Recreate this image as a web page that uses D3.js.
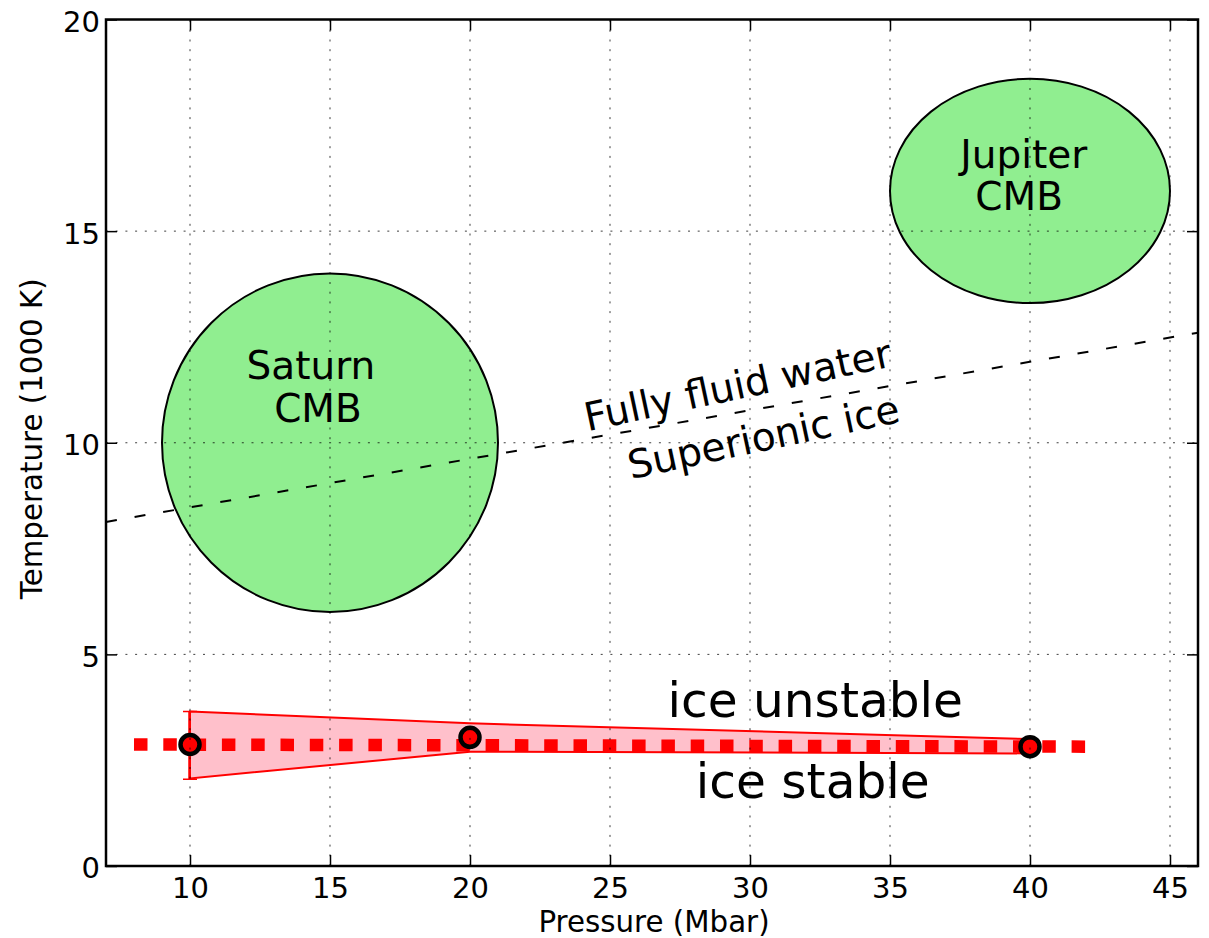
<!DOCTYPE html>
<html>
<head>
<meta charset="utf-8">
<script src="https://cdn.jsdelivr.net/npm/d3@7"></script>
<style>
  html, body { margin: 0; padding: 0; background: #fff; }
  svg { display: block; font-family: "DejaVu Sans", sans-serif; }
</style>
</head>
<body>
<svg id="chart" width="1209" height="938"></svg>
<script>
// Axis ranges and tick labels
const pressureDomain = [7, 46];
const tempDomain = [0, 20];
const pressureTicks = [10, 15, 20, 25, 30, 35, 40, 45];
const tempTicks = [0, 5, 10, 15, 20];

// Core-mantle boundary conditions of the two planets (ellipses)
const planetNames = [["Saturn", "CMB"], ["Jupiter", "CMB"]];
const planetP = [15, 40];
const planetT = [10, 15.95];
const planetHalfP = [6, 5];
const planetHalfT = [4, 2.65];
const planetLabelP = [[14.32, 14.57], [39.78, 39.61]];
const planetLabelT = [[11.5, 10.5], [16.48, 15.51]];

// Superionic / fluid boundary
const boundaryP = [7, 46];
const boundaryT = [8.13, 12.6];

// Ice stability computations
const obsP = [10, 20, 40];
const obsT = [2.87, 3.04, 2.82];
const bandUpper = [3.65, 3.37, 3.0];
const bandLower = [2.07, 2.70, 2.66];
const errP = [10];
const errLow = [2.05];
const errHigh = [3.65];
const fitP = [8, 42.1];
const fitT = [2.87, 2.82];

const svg = d3.select("#chart");
const mLeft = 106, mRight = 1198, mTop = 19.5, mBottom = 866;
const x = d3.scaleLinear().domain(pressureDomain).range([mLeft, mRight]);
const y = d3.scaleLinear().domain(tempDomain).range([mBottom, mTop]);

// Planet ellipses
const planets = planetP.map((p, i) => ({p, t: planetT[i], hp: planetHalfP[i], ht: planetHalfT[i]}));
svg.append("g").selectAll("ellipse").data(planets).join("ellipse")
  .attr("cx", d => x(d.p))
  .attr("cy", d => y(d.t))
  .attr("rx", d => x(d.p + d.hp) - x(d.p))
  .attr("ry", d => y(d.t - d.ht) - y(d.t))
  .attr("fill", "#90ee90")
  .attr("stroke", "#000")
  .attr("stroke-width", 2);

// Error bar at first pressure
const errG = svg.append("g").attr("stroke", "#ff0000").attr("stroke-width", 3.5);
errP.forEach((p, i) => {
  errG.append("line").attr("x1", x(p)).attr("x2", x(p)).attr("y1", y(errLow[i])).attr("y2", y(errHigh[i]));
  [errLow[i], errHigh[i]].forEach(v => {
    errG.append("line").attr("x1", x(p) - 7).attr("x2", x(p) + 7).attr("y1", y(v)).attr("y2", y(v)).attr("stroke-width", 1.5);
  });
});

// Uncertainty band
const bandPts = obsP.map((p, i) => [p, bandUpper[i]])
  .concat(obsP.map((p, i) => [p, bandLower[i]]).reverse());
svg.append("path")
  .attr("d", d3.line().x(d => x(d[0])).y(d => y(d[1]))(bandPts) + "Z")
  .attr("fill", "#ffc0cb")
  .attr("stroke", "#ff0000")
  .attr("stroke-width", 2)
  .attr("stroke-linejoin", "miter");

// Melting line fit
svg.append("path")
  .attr("d", d3.line().x(d => x(d[0])).y(d => y(d[1]))(fitP.map((p, i) => [p, fitT[i]])))
  .attr("fill", "none")
  .attr("stroke", "#ff0000")
  .attr("stroke-width", 12.5)
  .attr("stroke-dasharray", "13.5,15.8");

// Superionic boundary
svg.append("path")
  .attr("d", d3.line().x(d => x(d[0])).y(d => y(d[1]))(boundaryP.map((p, i) => [p, boundaryT[i]])))
  .attr("fill", "none")
  .attr("stroke", "#000")
  .attr("stroke-width", 2)
  .attr("stroke-dasharray", "11,18");

// Computed points
svg.append("g").selectAll("circle").data(obsP.map((p, i) => [p, obsT[i]])).join("circle")
  .attr("cx", d => x(d[0]))
  .attr("cy", d => y(d[1]))
  .attr("r", 9.5)
  .attr("fill", "#ff0000")
  .attr("stroke", "#000")
  .attr("stroke-width", 4.5);

// Grid
const grid = svg.append("g").attr("stroke", "#000").attr("stroke-width", 1)
  .attr("stroke-dasharray", "2,7.7").attr("opacity", 0.75);
grid.selectAll("line.v").data(pressureTicks).join("line").attr("class", "v")
  .attr("x1", d => x(d)).attr("x2", d => x(d)).attr("y1", mBottom).attr("y2", mTop);
grid.selectAll("line.h").data(tempTicks).join("line").attr("class", "h")
  .attr("y1", d => y(d)).attr("y2", d => y(d)).attr("x1", mLeft).attr("x2", mRight);

// Axes with inward ticks on all four sides
function styleAxis(g) {
  g.select(".domain").remove();
  g.selectAll(".tick line").attr("stroke", "#000").attr("stroke-width", 1.5);
  g.selectAll(".tick text").attr("fill", "#000").attr("font-size", 29).attr("font-family", "DejaVu Sans");
}
svg.append("g").attr("transform", `translate(0,${mBottom})`)
  .call(d3.axisBottom(x).tickValues(pressureTicks).tickFormat(d3.format("d")).tickSize(-11).tickPadding(11))
  .call(styleAxis);
svg.append("g").attr("transform", `translate(0,${mTop})`)
  .call(d3.axisTop(x).tickValues(pressureTicks).tickFormat("").tickSize(-11))
  .call(styleAxis);
svg.append("g").attr("transform", `translate(${mLeft},0)`)
  .call(d3.axisLeft(y).tickValues(tempTicks).tickFormat(d3.format("d")).tickSize(-11).tickPadding(6))
  .call(styleAxis)
  .selectAll(".tick text").attr("dy", "0.41em");
svg.append("g").attr("transform", `translate(${mRight},0)`)
  .call(d3.axisRight(y).tickValues(tempTicks).tickFormat("").tickSize(-11))
  .call(styleAxis);

// Frame
svg.append("rect")
  .attr("x", mLeft).attr("y", mTop).attr("width", mRight - mLeft).attr("height", mBottom - mTop)
  .attr("fill", "none").attr("stroke", "#000").attr("stroke-width", 2.5);

// Axis labels
svg.append("text").attr("x", (mLeft + mRight) / 2 + 2).attr("y", 932)
  .attr("text-anchor", "middle").attr("font-size", 29.3).text("Pressure (Mbar)");
svg.append("text").attr("transform", `translate(42,${(mTop + mBottom) / 2 - 4}) rotate(-90)`)
  .attr("text-anchor", "middle").attr("font-size", 29.3).text("Temperature (1000 K)");

// Planet labels
planetNames.forEach((lines, i) => {
  lines.forEach((s, j) => {
    svg.append("text")
      .attr("x", x(planetLabelP[i][j])).attr("y", y(planetLabelT[i][j]))
      .attr("text-anchor", "middle").attr("font-size", 39).text(s);
  });
});

// Phase labels
const phaseText = ["Fully fluid water", "Superionic ice"];
const phaseP = [29.66, 30.58];
const phaseT = [11.04, 9.82];
phaseText.forEach((s, i) => {
  svg.append("text")
    .attr("transform", `translate(${x(phaseP[i])},${y(phaseT[i])}) rotate(-12)`)
    .attr("text-anchor", "middle").attr("font-size", 39.3).text(s);
});

const iceText = ["ice unstable", "ice stable"];
const iceP = [32.33, 32.24];
const iceT = [3.53, 1.60];
iceText.forEach((s, i) => {
  svg.append("text")
    .attr("x", x(iceP[i])).attr("y", y(iceT[i]))
    .attr("text-anchor", "middle").attr("font-size", 48.6).text(s);
});
</script>
</body>
</html>
